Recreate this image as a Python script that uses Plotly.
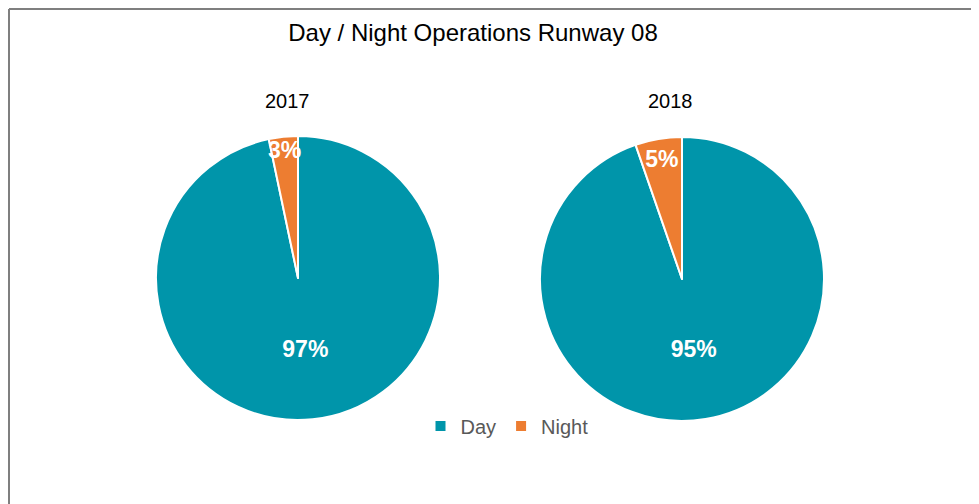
import plotly.graph_objects as go

# dados
anos = ['2017', '2018']
categorias = ['Day', 'Night']
valores_2017 = [96.7, 3.3]
valores_2018 = [94.7, 5.3]
cores = ['#0095AA', '#ED7D31']

OFF = 8  # margem do body da página
W, H = 979 - OFF, 504 - OFF


def fx(px):
    # posição horizontal na página -> fração do papel
    return (px - OFF) / W


def fy(py):
    # posição vertical na página -> fração do papel
    return 1 - (py - OFF) / H


fig = go.Figure()

dominios = [
    dict(x=[fx(156), fx(440)], y=[fy(420), fy(136)]),
    dict(x=[fx(540), fx(824)], y=[fy(421), fy(137)]),
]
centro_titulos = [287, 670]

for i, (ano, vals) in enumerate(zip(anos, [valores_2017, valores_2018])):
    fig.add_trace(go.Pie(
        labels=categorias,
        values=vals,
        domain=dominios[i],
        sort=False,
        direction='clockwise',
        rotation=0,
        marker=dict(colors=cores, line=dict(color='white', width=2)),
        texttemplate='<b>%{percent:.0%}</b>',
        textposition='inside',
        insidetextorientation='horizontal',
        textfont=dict(color='white', size=23, family='Liberation Sans, Arial'),
        showlegend=(i == 0),
        hoverinfo='label+percent',
    ))
    fig.add_annotation(
        x=fx(centro_titulos[i]), y=fy(101),
        xref='paper', yref='paper', xanchor='center', yanchor='middle',
        text=ano, showarrow=False,
        font=dict(size=20, color='#000000', family='Liberation Sans, Arial'),
    )

# moldura (só topo e esquerda aparecem)
fig.add_shape(type='line', xref='paper', yref='paper',
              x0=fx(9), x1=1, y0=fy(9), y1=fy(9),
              line=dict(color='#7f7f7f', width=2))
fig.add_shape(type='line', xref='paper', yref='paper',
              x0=fx(9), x1=fx(9), y0=0, y1=fy(9),
              line=dict(color='#7f7f7f', width=2))

fig.update_layout(
    width=W, height=H,
    margin=dict(l=0, r=0, t=0, b=0),
    paper_bgcolor='white',
    plot_bgcolor='white',
    uniformtext=dict(minsize=23, mode='show'),
    title=dict(text='Day / Night Operations Runway 08', x=fx(473), xanchor='center',
               y=fy(33), yanchor='middle',
               font=dict(size=24, color='#000000', family='Liberation Sans, Arial')),
    legend=dict(orientation='h', x=fx(507), xanchor='center',
                y=fy(426), yanchor='middle',
                font=dict(size=20, color='#595959', family='Liberation Sans, Arial'),
                traceorder='normal'),
)

fig.write_html('out.html')
